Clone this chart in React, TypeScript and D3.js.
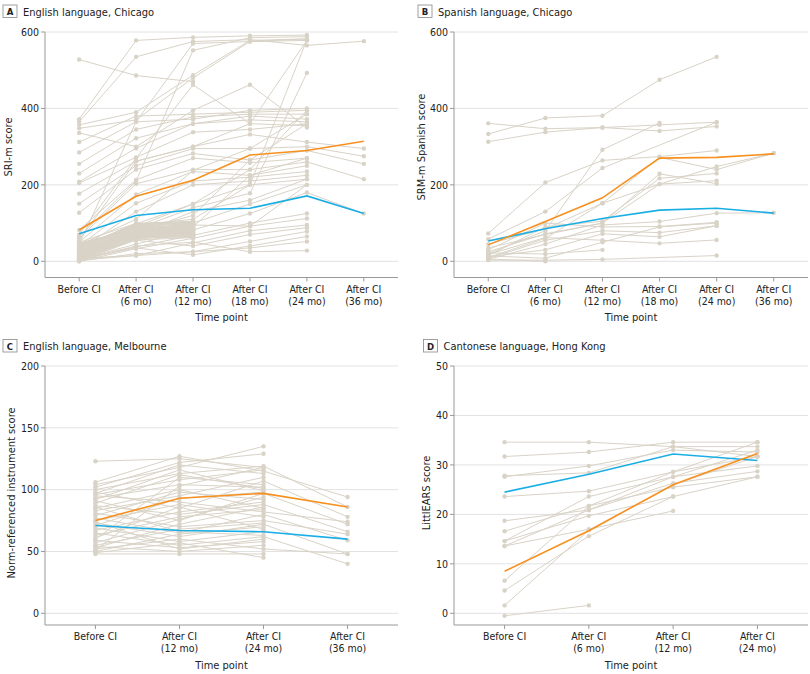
import React from "react";
import * as d3 from "d3";

type V = number | null;

const FONT = '"DejaVu Sans Condensed", "Liberation Sans Narrow", "Arial Narrow", sans-serif';
const LINE_GRAY = "#d9d3c7";
const ORANGE = "#f7901e";
const BLUE = "#1aaee5";

// ---------- time point labels ----------
const timesChicago = ["Before CI", "After CI|(6 mo)", "After CI|(12 mo)", "After CI|(18 mo)", "After CI|(24 mo)", "After CI|(36 mo)"];
const timesMelbourne = ["Before CI", "After CI|(12 mo)", "After CI|(24 mo)", "After CI|(36 mo)"];
const timesHongKong = ["Before CI", "After CI|(6 mo)", "After CI|(12 mo)", "After CI|(24 mo)"];

// ---------- Panel A: English, Chicago (SRI-m) ----------
const englishChicago: V[][] = [
  [528, 486, 470, null, null, null],
  [372, 578, 586, 590, 592, null],
  [365, 535, 575, 580, 565, 576],
  [357, 390, 487, 578, 582, null],
  [348, 370, 480, 575, 578, null],
  [336, 300, 395, 462, 350, null],
  [312, 380, 385, 390, 395, null],
  [285, 365, 372, 395, 400, null],
  [255, 345, 378, 385, 385, null],
  [230, 322, 360, 380, 372, null],
  [208, 296, 360, 370, 365, null],
  [205, 272, 338, 345, 360, null],
  [177, 262, 300, 332, 312, 295],
  [151, 250, 295, 295, 300, 275],
  [127, 240, 282, 265, 290, 255],
  [82, 213, 270, 258, 270, null],
  [60, 203, 240, 240, 260, 215],
  [50, 175, 235, 225, 250, null],
  [40, 152, 210, 220, 235, null],
  [30, 130, 200, 210, 225, null],
  [45, 365, 570, 575, 582, null],
  [35, 90, 150, 200, 580, null],
  [25, 85, 140, 178, 493, null],
  [15, 70, 130, 160, 215, null],
  [10, 60, 100, 150, 200, null],
  [5, 45, 82, 125, 180, 125],
  [2, 38, 68, 100, 125, null],
  [0, 33, 60, 92, 112, null],
  [8, 15, 48, 80, 95, null],
  [12, 55, 40, 70, 88, null],
  [3, 15, 25, 52, 78, null],
  [6, 35, 17, 40, 65, null],
  [1, 20, 25, 35, 52, null],
  [4, 40, 50, 25, 28, null],
  [70, 270, 462, 360, 355, null],
  [65, 210, 552, 585, 588, null],
  [55, 262, 300, 360, 578, null],
  [42, 110, 238, 295, 385, null],
  [38, 98, 150, 240, 395, null],
  [28, 80, 120, 265, 360, null],
  [20, 75, 90, 225, 270, null],
  [18, 95, 110, 200, 215, null],
  [14, 65, 95, 92, 200, null],
];
const englishChicagoEarly: V[][] = [
  [1, 56, 62], [3, 58, 69], [5, 61, 64], [6, 62, 73], [8, 65, 70], [9, 66, 79],
  [10, 69, 74], [12, 70, 81], [13, 73, 76], [14, 74, 85], [16, 77, 82], [17, 78, 89],
  [18, 81, 86], [20, 82, 93], [21, 85, 90], [22, 86, 97], [24, 89, 94], [25, 90, 101],
  [27, 93, 98], [28, 94, 103], [30, 97, 100], [32, 98, 104], [34, 100, 96], [36, 96, 88],
  [38, 95, 79], [40, 92, 72], [42, 91, 65], [44, 88, 61], [46, 87, 68], [48, 84, 75],
  [2, 83, 86], [4, 80, 93], [7, 79, 99], [11, 76, 103], [15, 75, 91], [19, 72, 83],
  [23, 71, 77], [26, 68, 71], [29, 67, 63], [31, 64, 67], [33, 63, 73], [37, 60, 81],
  [41, 59, 89], [45, 57, 97], [50, 99, 105], [0, 62, 84], [3, 71, 95], [7, 88, 66],
];
const englishChicagoOrange = [82, 170, 212, 278, 290, 314];
const englishChicagoBlue = [72, 120, 135, 139, 171, 125];

// ---------- Panel B: Spanish, Chicago (SRM-m) ----------
const spanishChicago: V[][] = [
  [333, 375, 381, 475, 535, null],
  [361, 347, 350, 357, 364, null],
  [313, 338, 350, 341, 353, null],
  [73, 206, 264, 274, 290, null],
  [20, 80, 292, 362, null, null],
  [58, 130, 244, null, 364, null],
  [10, 60, 152, 202, 248, 283],
  [15, 90, 105, 217, 230, null],
  [25, 72, 100, 202, 211, null],
  [5, 45, 95, 104, 126, 127],
  [30, 100, 90, 91, 102, null],
  [8, 55, 80, 75, 93, null],
  [12, 30, 72, 64, 93, null],
  [18, 62, 55, 47, 56, null],
  [3, 3, 5, null, 15, null],
  [22, 19, 30, null, null, null],
  [35, 70, 100, 229, 203, null],
  [14, 8, 50, 90, 100, null],
  [6, 0, null, null, null, null],
  [45, 85, 152, 272, 240, 283],
];
const spanishChicagoOrange = [43, 104, 166, 270, 272, 281];
const spanishChicagoBlue = [53, 85, 112, 134, 139, 126];

// ---------- Panel C: English, Melbourne ----------
const englishMelbourne: V[][] = [
  [123, 125, 118, null], [106, 127, 115, 94], [104, 118, 135, null], [102, 122, 129, null],
  [100, 113, 119, 86], [98, 85, 107, 78], [96, 108, 116, null], [95, 90, 82, 74],
  [93, 104, 102, null], [91, 75, 97, 72], [89, 112, 101, null], [87, 80, 88, 66],
  [85, 100, 85, null], [83, 95, 110, null], [81, 70, 75, 64], [79, 98, 92, null],
  [77, 65, 80, 59], [75, 88, 78, null], [73, 62, 72, 48], [71, 93, 98, null],
  [69, 58, 66, null], [67, 82, 90, null], [65, 55, 62, 40], [63, 78, 84, null],
  [61, 86, 68, null], [59, 53, 58, null], [57, 76, 94, null], [55, 68, 73, null],
  [54, 50, 55, null], [53, 72, 86, null], [52, 60, 52, 48], [51, 103, 118, null],
  [50, 64, 70, null], [48, 48, 48, null], [97, 120, 113, null], [92, 116, 99, null],
  [60, 110, 104, null], [86, 66, 63, null], [74, 52, 60, null], [49, 57, 45, null],
];
const englishMelbourneOrange = [75, 93, 97, 86];
const englishMelbourneBlue = [71, 67, 66, 60];

// ---------- Panel D: Cantonese, Hong Kong (LittlEARS) ----------
const cantoneseHongKong: V[][] = [
  [34.6, 34.6, 33.7, 31.7],
  [31.7, 32.6, 34.6, 34.6],
  [27.6, 29.8, 33.0, 32.6],
  [27.8, 28.4, 33.7, 33.7],
  [23.6, 24.7, 28.6, 34.6],
  [18.7, 20.9, 27.6, 33.0],
  [16.6, 21.7, 28.6, 31.7],
  [14.6, 23.6, 27.6, 29.8],
  [13.6, 20.9, 26.3, 28.7],
  [14.6, 19.7, 23.6, 27.6],
  [13.6, 17.0, 20.7, null],
  [6.6, 21.7, 25.5, 27.6],
  [4.6, 15.6, 23.6, null],
  [1.6, 16.8, 26.0, 31.7],
  [-0.5, 1.6, null, null],
];
const cantoneseHongKongOrange = [8.5, 16.7, 26.0, 32.3];
const cantoneseHongKongBlue = [24.5, 28.1, 32.2, 30.9];

type PanelCfg = {
  letter: string;
  title: string;
  boxX: number;
  boxY: number;
  left: number;
  right: number;
  top: number;
  zero: number;
  bottom: number;
  max: number;
  ticks: number[];
  times: string[];
  subjects: V[][];
  orange: number[];
  blue: number[];
  yLabel: string;
  yLabelX: number;
  yLabelY: number;
};

const pad = (rows: V[][], n: number): V[][] => rows.map((r) => [...r, ...Array(n - r.length).fill(null)]);

const panels: PanelCfg[] = [
  {
    letter: "A", title: "English language, Chicago", boxX: 3, boxY: 5,
    left: 45, right: 398, top: 32, zero: 261.3, bottom: 277.5, max: 600, ticks: [0, 200, 400, 600],
    times: timesChicago, subjects: [...pad(englishChicagoEarly, 6), ...englishChicago],
    orange: englishChicagoOrange, blue: englishChicagoBlue,
    yLabel: "SRI-m score", yLabelX: 12, yLabelY: 147,
  },
  {
    letter: "B", title: "Spanish language, Chicago", boxX: 418, boxY: 5,
    left: 454, right: 808, top: 32, zero: 261.3, bottom: 277.5, max: 600, ticks: [0, 200, 400, 600],
    times: timesChicago, subjects: spanishChicago,
    orange: spanishChicagoOrange, blue: spanishChicagoBlue,
    yLabel: "SRM-m Spanish score", yLabelX: 425, yLabelY: 147,
  },
  {
    letter: "C", title: "English language, Melbourne", boxX: 3, boxY: 339.5,
    left: 45, right: 398, top: 366, zero: 613.3, bottom: 625, max: 200, ticks: [0, 50, 100, 150, 200],
    times: timesMelbourne, subjects: englishMelbourne,
    orange: englishMelbourneOrange, blue: englishMelbourneBlue,
    yLabel: "Norm-referenced instrument score", yLabelX: 15, yLabelY: 493,
  },
  {
    letter: "D", title: "Cantonese language, Hong Kong", boxX: 423.5, boxY: 339.5,
    left: 454, right: 808, top: 366, zero: 613.3, bottom: 625, max: 50, ticks: [0, 10, 20, 30, 40, 50],
    times: timesHongKong, subjects: cantoneseHongKong,
    orange: cantoneseHongKongOrange, blue: cantoneseHongKongBlue,
    yLabel: "LittlEARS score", yLabelX: 430, yLabelY: 493,
  },
];

function Panel({ p }: { p: PanelCfg }) {
  const x = d3.scalePoint<number>().domain(p.times.map((_, i) => i)).range([p.left, p.right]).padding(0.6);
  const y = d3.scaleLinear().domain([0, p.max]).range([p.zero, p.top]);
  const line = d3
    .line<[number, number]>()
    .x((d) => x(d[0]) as number)
    .y((d) => y(d[1]));
  const pts = (row: V[]) =>
    row.map((v, i) => [i, v] as [number, V]).filter((d) => d[1] !== null) as [number, number][];
  const cx = (p.left + p.right) / 2;
  return (
    <g>
      {/* title */}
      <rect x={p.boxX} y={p.boxY} width={14} height={12.5} fill="#fff" stroke="#888" strokeWidth={0.8} />
      <text x={p.boxX + 7} y={p.boxY + 10} textAnchor="middle" fontSize={9.5} fontWeight="bold" fill="#222">
        {p.letter}
      </text>
      <text x={p.boxX + 20} y={p.boxY + 10.5} fontSize={11} fill="#222">
        {p.title}
      </text>
      {/* gridlines */}
      {p.ticks.map((t) => (
        <line key={"g" + t} x1={p.left} x2={p.right} y1={y(t)} y2={y(t)} stroke="#e2e2e2" strokeWidth={1} />
      ))}
      {/* subjects */}
      {p.subjects.map((row, i) => (
        <path key={"s" + i} d={line(pts(row)) || ""} fill="none" stroke={LINE_GRAY} strokeWidth={1} />
      ))}
      {p.subjects.map((row, i) =>
        pts(row).map((d) => (
          <circle key={"c" + i + "-" + d[0]} cx={x(d[0])} cy={y(d[1])} r={2.2} fill={LINE_GRAY} />
        ))
      )}
      {/* summary lines */}
      <path d={line(p.blue.map((v, i) => [i, v] as [number, number])) || ""} fill="none" stroke={BLUE} strokeWidth={1.6} />
      <path d={line(p.orange.map((v, i) => [i, v] as [number, number])) || ""} fill="none" stroke={ORANGE} strokeWidth={1.6} />
      {/* axes */}
      <line x1={p.left} x2={p.left} y1={p.top} y2={p.bottom} stroke="#999" strokeWidth={1} />
      <line x1={p.left} x2={p.right} y1={p.bottom} y2={p.bottom} stroke="#999" strokeWidth={1} />
      {p.ticks.map((t) => (
        <g key={"yt" + t}>
          <line x1={p.left - 4} x2={p.left} y1={y(t)} y2={y(t)} stroke="#999" />
          <text x={p.left - 6} y={y(t)} dy="0.35em" textAnchor="end" fontSize={10.5} fill="#222">
            {t}
          </text>
        </g>
      ))}
      {p.times.map((lab, i) => (
        <g key={"xt" + i}>
          <line x1={x(i)} x2={x(i)} y1={p.bottom} y2={p.bottom + 4} stroke="#999" />
          {lab.split("|").map((part, j) => (
            <text key={j} x={x(i)} y={p.bottom + 15 + j * 12} textAnchor="middle" fontSize={10.5} fill="#222">
              {part}
            </text>
          ))}
        </g>
      ))}
      <text x={cx} y={p.bottom + 43.5} textAnchor="middle" fontSize={11} fill="#222">
        Time point
      </text>
      <text
        transform={`translate(${p.yLabelX},${p.yLabelY}) rotate(-90)`}
        textAnchor="middle"
        fontSize={11}
        fill="#222"
      >
        {p.yLabel}
      </text>
    </g>
  );
}

export default function App() {
  return (
    <div style={{ position: "absolute", left: 0, top: 0 }}>
      <svg width={810} height={674} style={{ display: "block", fontFamily: FONT, background: "#fff" }}>
        {panels.map((p) => (
          <Panel key={p.letter} p={p} />
        ))}
      </svg>
    </div>
  );
}
